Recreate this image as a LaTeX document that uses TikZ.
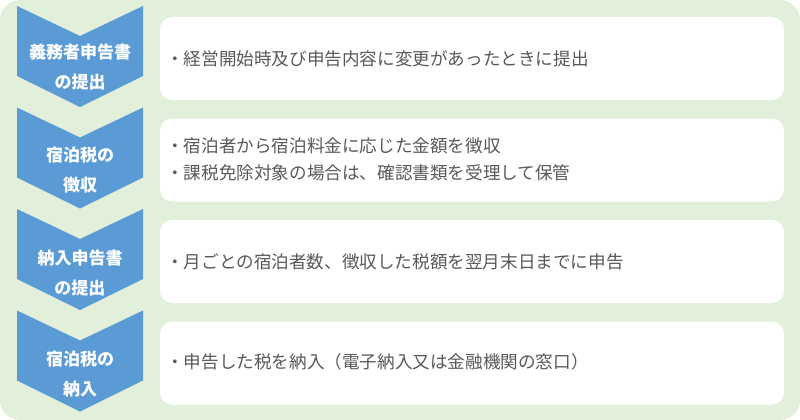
\documentclass[tikz,border=0pt]{standalone}
\usepackage{fontspec}
\newfontfamily\jp{Noto Sans CJK JP}
\definecolor{chevblue}{HTML}{5B9BD5}
\definecolor{bggreen}{HTML}{E2EFDA}
\definecolor{textgray}{HTML}{595959}
\begin{document}
\begin{tikzpicture}[x=1pt,y=-1pt,
  chev/.style={fill=chevblue},
  chevtext/.style={text=white,font=\jp\bfseries\fontsize{17}{30}\selectfont,align=center,inner sep=0pt},
  box/.style={fill=white,rounded corners=12pt},
  boxtext/.style={text=textgray,font=\jp\fontsize{17.6}{27}\selectfont,align=left,anchor=west,inner sep=0pt}]
\useasboundingbox (0,0) rectangle (800,420);
\fill[bggreen,rounded corners=20pt] (0,0) rectangle (800,420);
% chevrons
\foreach \t in {6,107.5,209,310.5}{
  \fill[chev] (17,\t) -- (80,\t+30) -- (143,\t) -- (143,\t+70) -- (80,\t+101) -- (17,\t+70) -- cycle;
}
% boxes
\fill[box] (160,17) rectangle (784,100);
\fill[box] (160,118.5) rectangle (784,201.5);
\fill[box] (160,220) rectangle (784,303);
\fill[box] (160,321.5) rectangle (784,404.5);
% chevron texts
\node[chevtext] (c1) at (80,67) {義務者申告書\\の提出};
\node[chevtext] (c2) at (80,170) {宿泊税の\\徴収};
\node[chevtext] (c3) at (80,273) {納入申告書\\の提出};
\node[chevtext] (c4) at (80,374) {宿泊税の\\納入};
% box texts
\node[boxtext] (t1) at (166,58.5) {・経営開始時及び申告内容に変更があったときに提出};
\node[boxtext] (t2) at (166,159) {・宿泊者から宿泊料金に応じた金額を徴収\\・課税免除対象の場合は、確認書類を受理して保管};
\node[boxtext] (t3) at (166,261.5) {・月ごとの宿泊者数、徴収した税額を翌月末日までに申告};
\node[boxtext] (t4) at (166,362) {・申告した税を納入（電子納入又は金融機関の窓口）};
\end{tikzpicture}
\end{document}
